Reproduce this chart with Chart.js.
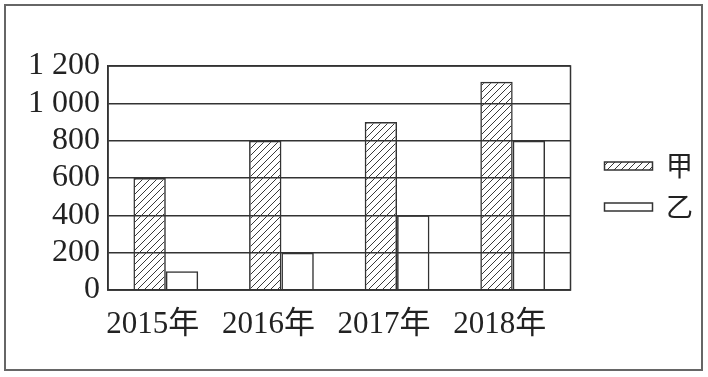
<!DOCTYPE html>
<html>
<head>
<meta charset="utf-8">
<script src="https://cdn.jsdelivr.net/npm/chart.js@4/dist/chart.umd.min.js"></script>
<style>
    body { margin: 0; background: #fff; }
    #box { width: 708px; height: 377px; }
</style>
</head>
<body>
<div id="box"><canvas id="barChart" width="708" height="377"></canvas></div>
<script>
var years = ["2015年", "2016年", "2017年", "2018年"];
var jiaValues = [600, 800, 900, 1115];
var yiValues = [100, 200, 400, 800];
var yTicks = [0, 200, 400, 600, 800, 1000, 1200];

var ink = "#333";
var serif = "'Liberation Serif', 'Noto Sans CJK SC', serif";

function makeHatch()
{
    var s = 7;
    var c = document.createElement("canvas");
    c.width = s;
    c.height = s;
    var g = c.getContext("2d");
    g.strokeStyle = "#3a3a3a";
    g.lineWidth = 1;
    g.beginPath();
    g.moveTo(0, s); g.lineTo(s, 0);
    g.moveTo(-2, 2); g.lineTo(2, -2);
    g.moveTo(s - 2, s + 2); g.lineTo(s + 2, s - 2);
    g.stroke();
    return g.createPattern(c, "repeat");
}

// frame round the plot and round the whole figure
var framePlugin = {
    id: "frames",
    afterDraw: function (chart) {
        var ctx = chart.ctx;
        var a = chart.chartArea;
        ctx.save();
        ctx.strokeStyle = ink;
        ctx.lineWidth = 1.5;
        ctx.strokeRect(a.left, a.top, a.right - a.left, a.bottom - a.top);
        ctx.strokeStyle = "#666";
        ctx.lineWidth = 2;
        ctx.strokeRect(5, 5, 697, 365);
        ctx.restore();
    }
};

var chart = new Chart(document.getElementById("barChart"), {
    type: "bar",
    data: {
        labels: years,
        datasets: [{
            label: "甲",
            data: jiaValues,
            backgroundColor: makeHatch(),
            borderColor: ink,
            borderWidth: 1.5
        },
        {
            label: "乙",
            data: yiValues,
            backgroundColor: "rgba(255,255,255,0)",
            borderColor: ink,
            borderWidth: 1.5
        }]
    },
    options: {
        responsive: false,
        animation: false,
        layout: {
            padding: { left: 10, top: 66, right: 5, bottom: 0 }
        },
        datasets: {
            bar: { categoryPercentage: 0.56, barPercentage: 1.0 }
        },
        scales: {
            x: {
                grid: { display: false },
                border: { color: ink, width: 1.5 },
                ticks: {
                    color: "#222",
                    font: { family: serif, size: 31 },
                    padding: 8,
                    labelOffset: -13,
                    maxRotation: 0
                },
                afterFit: function (scale) { scale.height = 87; }
            },
            y: {
                min: 0,
                max: 1200,
                afterBuildTicks: function (scale) {
                    scale.ticks = yTicks.map(function (v) { return { value: v }; });
                },
                grid: { color: ink, lineWidth: 1.5, drawTicks: false },
                border: { color: ink, width: 1.5 },
                ticks: {
                    autoSkip: false,
                    color: "#222",
                    font: { family: serif, size: 32 },
                    padding: 8,
                    callback: function (v) {
                        return v >= 1000 ? Math.floor(v / 1000) + " " + String(v % 1000).padStart(3, "0") : String(v);
                    }
                },
                afterFit: function (scale) { scale.width = 98; }
            },
            // empty gap between the plot and the legend
            gap: {
                type: "linear",
                position: "right",
                display: true,
                grid: { display: false },
                border: { display: false },
                ticks: { display: false },
                afterFit: function (scale) { scale.width = 20; }
            }
        },
        plugins: {
            legend: {
                position: "right",
                fullSize: false,
                title: { display: true, text: " ", font: { size: 1 }, padding: 8 },
                labels: {
                    boxWidth: 48,
                    boxHeight: 8,
                    padding: 14,
                    color: "#222",
                    font: { family: "'Noto Sans CJK SC', sans-serif", size: 27 }
                }
            },
            tooltip: { enabled: false }
        }
    },
    plugins: [framePlugin]
});
</script>
</body>
</html>
